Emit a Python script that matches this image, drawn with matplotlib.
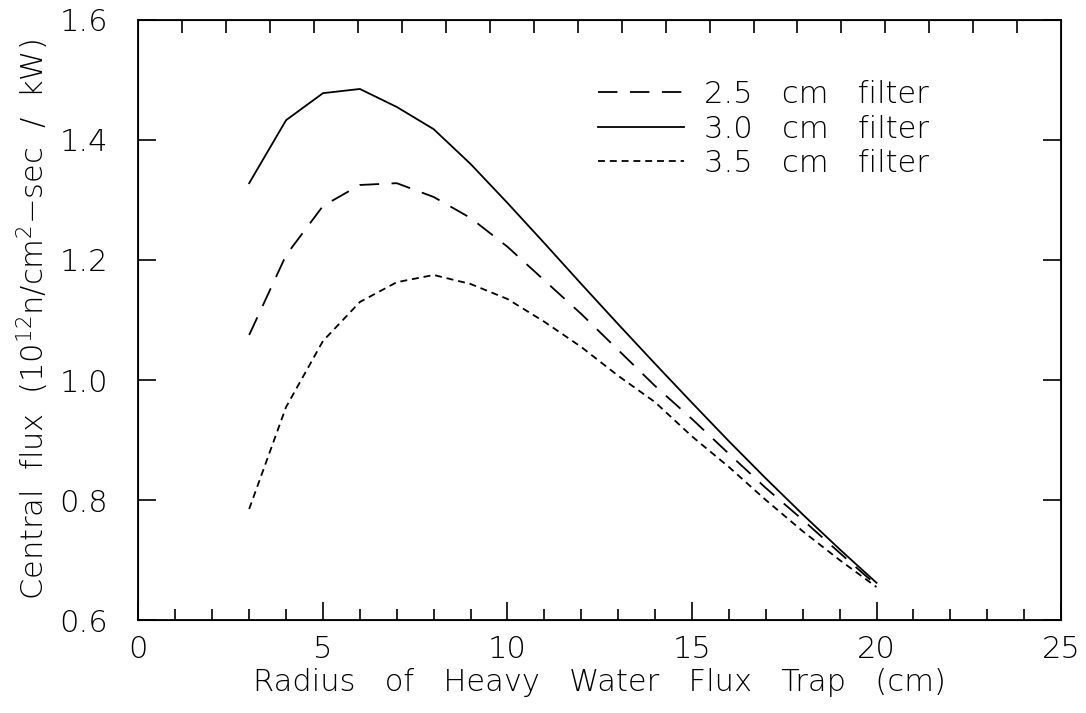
import numpy as np
import matplotlib
matplotlib.use('Agg')
import matplotlib.pyplot as plt

# data
radius = [3, 4, 5, 6, 7, 8, 9, 10, 11, 12, 13, 14, 15, 16, 17, 18, 19, 20]
flux_25 = [1.075, 1.208, 1.29, 1.325, 1.328, 1.305, 1.27, 1.222, 1.166, 1.11,
           1.05, 0.99, 0.935, 0.877, 0.82, 0.767, 0.712, 0.658]
flux_30 = [1.328, 1.433, 1.478, 1.485, 1.455, 1.418, 1.36, 1.295, 1.228, 1.16,
           1.093, 1.027, 0.962, 0.898, 0.836, 0.776, 0.718, 0.662]
flux_35 = [0.785, 0.955, 1.065, 1.13, 1.163, 1.175, 1.16, 1.135, 1.097, 1.055,
           1.007, 0.963, 0.906, 0.855, 0.80, 0.748, 0.70, 0.655]
labels = ['2.5   cm   filter', '3.0   cm   filter', '3.5   cm   filter']

plt.rcParams['font.family'] = 'DejaVu Sans'
plt.rcParams['font.weight'] = 'light'
plt.rcParams['axes.labelweight'] = 'light'
plt.rcParams['mathtext.fontset'] = 'custom'
plt.rcParams['mathtext.rm'] = 'DejaVu Sans:light'
plt.rcParams['mathtext.default'] = 'rm'
plt.rcParams['lines.scale_dashes'] = False

fig = plt.figure(figsize=(10.86, 7.13), dpi=100)
ax = fig.add_axes([0.1275, 0.1304, 0.977 - 0.1275, 0.972 - 0.1304])

lw = 1.3
ax.plot(radius, flux_25, color='black', lw=lw, dashes=(14, 9), label=labels[0])
ax.plot(radius, flux_30, color='black', lw=lw, label=labels[1])
ax.plot(radius, flux_35, color='black', lw=lw, dashes=(5, 3.5), label=labels[2])

ax.set_xlim(0, 25)
ax.set_ylim(0.6, 1.6)
ax.set_xticks(np.arange(0, 26, 5))
ax.set_xticks(np.arange(0, 26, 1), minor=True)
ax.set_yticks(np.arange(0.6, 1.61, 0.2))
ax.set_yticklabels(['0.6', '0.8', '1.0', '1.2', '1.4', '1.6'])

fs = 22
ax.tick_params(axis='x', which='major', direction='in', length=13, width=1.2,
               labelsize=fs, pad=11)
ax.tick_params(axis='x', which='minor', direction='in', length=8, width=1.2)
ax.tick_params(axis='y', which='major', direction='in', length=13, width=1.2,
               labelsize=fs, pad=22, right=True)
for s in ax.spines.values():
    s.set_linewidth(1.3)

# top axis has its own evenly spaced ticks
top = ax.twiny()
top.set_xlim(0, 21)
top.set_xticks(np.arange(1, 21))
top.tick_params(axis='x', direction='in', length=9, width=1.2, labeltop=False)

ax.set_xlabel('Radius   of   Heavy   Water   Flux   Trap   (cm)', fontsize=fs,
              fontweight='light', labelpad=3)
ax.set_ylabel('Central  flux  (10$^{12}$n/cm$^{2}$$-$sec  /  kW)', fontsize=fs,
              fontweight='light', labelpad=6)

ax.legend(loc='upper left', bbox_to_anchor=(0.485, 0.92), frameon=False,
          fontsize=fs, handlelength=2.8, handletextpad=0.65, labelspacing=0.18,
          borderaxespad=0)

fig.savefig('out.png', dpi=100)
